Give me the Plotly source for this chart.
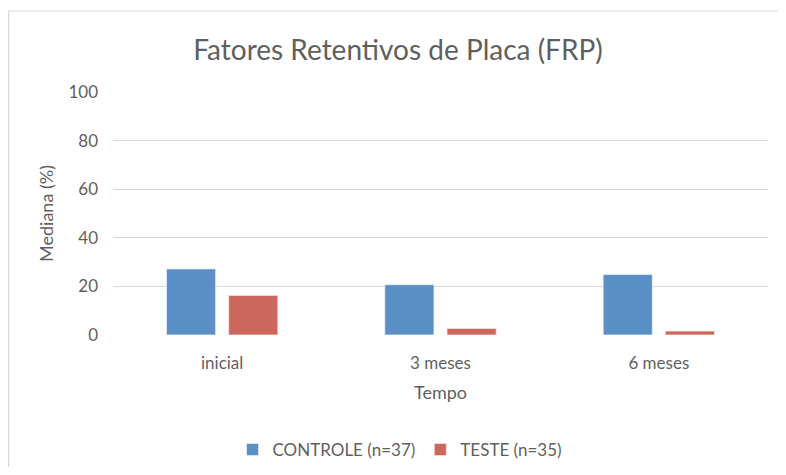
import plotly.graph_objects as go

categories = ["inicial", "3 meses", "6 meses"]
controle = [27.2, 20.7, 24.9]
teste = [16.3, 2.7, 1.6]
y_ticks = [0, 20, 40, 60, 80, 100]

# page has an 8px body margin on every side; keep figure inside the window
OFF = 8
W, H = 786 - 2 * OFF, 475 - 2 * OFF
L, T = 113 - OFF, 92 - OFF
R = W - (768 - OFF)
B = H - (335 - OFF)
pw, ph = W - L - R, H - T - B

def px_x(p):
    return (p - OFF - L) / pw

def px_y(p):
    return (H - B - (p - OFF)) / ph

def cont_y(p):
    return 1 - (p - OFF) / H

font_fam = "Lato, 'Open Sans', sans-serif"
gray = "#5f5f5f"

fig = go.Figure()
fig.add_trace(go.Bar(name="CONTROLE (n=37)", x=categories, y=controle,
                     marker=dict(color="#5B90C6", line=dict(color="#e8eef6", width=0.8))))
fig.add_trace(go.Bar(name="TESTE (n=35)", x=categories, y=teste,
                     marker=dict(color="#CC675D", line=dict(color="#f3e3e1", width=0.8))))

fig.update_layout(
    width=W, height=H,
    margin=dict(l=L, r=R, t=T, b=B, autoexpand=False),
    paper_bgcolor="white", plot_bgcolor="white",
    barmode="group", bargap=0.43, bargroupgap=0.21,
    font=dict(family=font_fam, color=gray, size=16),
    title=dict(text="Fatores Retentivos de Placa (FRP)", x=(398 - OFF) / W, xanchor="center",
               y=cont_y(50), yanchor="middle",
               font=dict(size=28, color=gray, family=font_fam)),
    xaxis=dict(showgrid=False, showline=False, ticks="", zeroline=False, automargin=False,
               tickfont=dict(size=17, color=gray), ticklabelstandoff=16,
               title=dict(text="Tempo", font=dict(size=18, color=gray), standoff=14)),
    yaxis=dict(range=[0, 100], tickvals=y_ticks, showgrid=True, gridcolor="#d9d9d9",
               gridwidth=1, zeroline=False, showline=False, ticks="", automargin=False,
               tickfont=dict(size=17, color=gray), ticklabelstandoff=14,
               title=dict(text="Mediana (%)", font=dict(size=18, color=gray), standoff=10)),
    legend=dict(orientation="h", x=(400 - OFF) / W, xref="container", xanchor="center",
                y=cont_y(450), yref="container", yanchor="middle",
                font=dict(size=17, color=gray), itemwidth=30, traceorder="normal"),
    shapes=[dict(type="rect", xref="paper", yref="paper",
                 x0=px_x(OFF + 0.6), x1=px_x(800), y0=px_y(490), y1=px_y(11),
                 line=dict(color="#d9d9d9", width=1.2), fillcolor="rgba(0,0,0,0)", layer="below")],
)

fig.write_html("out.html")
